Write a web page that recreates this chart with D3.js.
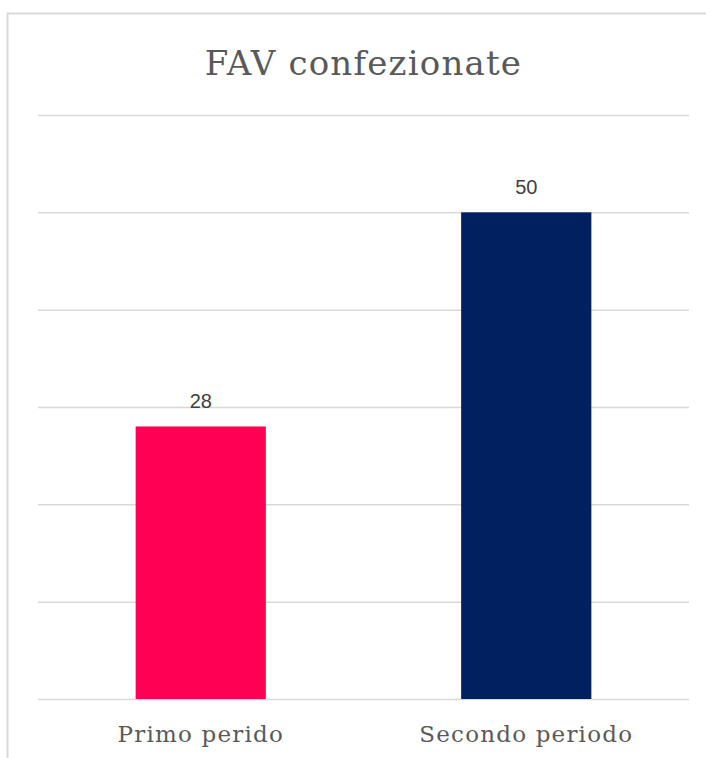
<!DOCTYPE html>
<html>
<head>
<meta charset="utf-8">
<script src="https://cdn.jsdelivr.net/npm/d3@7"></script>
<style>
  body { margin: 0; background: #fff; }
  svg { display: block; }
</style>
</head>
<body>
<svg id="chart"></svg>
<script>
// data
const categories = ['Primo perido', 'Secondo periodo'];
const values = [28, 50];
const barColors = ['#FF0055', '#002060'];
const yTicks = [0, 10, 20, 30, 40, 50, 60];

const width = 706, height = 758;
const margin = {top: 115, right: 17, bottom: 59, left: 38};
const innerW = width - margin.left - margin.right;
const innerH = height - margin.top - margin.bottom;

const svg = d3.select('#chart')
    .attr('width', width)
    .attr('height', height);

// outer frame (runs past the right and bottom edges)
svg.append('rect')
    .attr('x', 7.5)
    .attr('y', 13.5)
    .attr('width', 720)
    .attr('height', 760)
    .attr('fill', '#fff')
    .attr('stroke', '#d9d9d9')
    .attr('stroke-width', 2);

const chart = svg.append('g')
    .attr('transform', `translate(${margin.left},${margin.top})`);

const x = d3.scaleBand()
    .domain(categories)
    .range([0, innerW])
    .paddingInner(0.6)
    .paddingOuter(0.3);

const y = d3.scaleLinear()
    .domain([0, 60])
    .range([innerH, 0]);

// gridlines
const yAxis = d3.axisLeft(y)
    .tickValues(yTicks)
    .tickSize(-innerW)
    .tickFormat('');

chart.append('g')
    .attr('class', 'grid')
    .call(yAxis)
    .call(g => g.select('.domain').remove())
    .call(g => g.selectAll('line')
        .attr('stroke', '#d9d9d9')
        .attr('stroke-width', 1.5));

// bars
chart.selectAll('.bar')
    .data(values)
  .join('rect')
    .attr('class', 'bar')
    .attr('x', (d, i) => x(categories[i]))
    .attr('y', d => y(d))
    .attr('width', x.bandwidth())
    .attr('height', d => innerH - y(d))
    .attr('fill', (d, i) => barColors[i]);

// value labels
chart.selectAll('.label')
    .data(values)
  .join('text')
    .attr('class', 'label')
    .attr('x', (d, i) => x(categories[i]) + x.bandwidth() / 2)
    .attr('y', d => y(d) - 18)
    .attr('text-anchor', 'middle')
    .attr('font-family', 'Liberation Sans, Arial, sans-serif')
    .attr('font-size', 20)
    .attr('fill', '#404040')
    .text(d => d);

// x axis labels
const xAxis = d3.axisBottom(x).tickSize(0).tickPadding(27);
chart.append('g')
    .attr('transform', `translate(0,${innerH})`)
    .call(xAxis)
    .call(g => g.select('.domain').remove())
    .call(g => g.selectAll('text')
        .attr('font-family', 'DejaVu Serif, serif')
        .attr('font-size', 23)
        .attr('letter-spacing', 1.2)
        .attr('fill', '#595959'));

// title
svg.append('text')
    .attr('x', margin.left + innerW / 2)
    .attr('y', 75)
    .attr('text-anchor', 'middle')
    .attr('font-family', 'DejaVu Serif, serif')
    .attr('font-size', 34)
    .attr('letter-spacing', 1.2)
    .attr('fill', '#595959')
    .text('FAV confezionate');
</script>
</body>
</html>
